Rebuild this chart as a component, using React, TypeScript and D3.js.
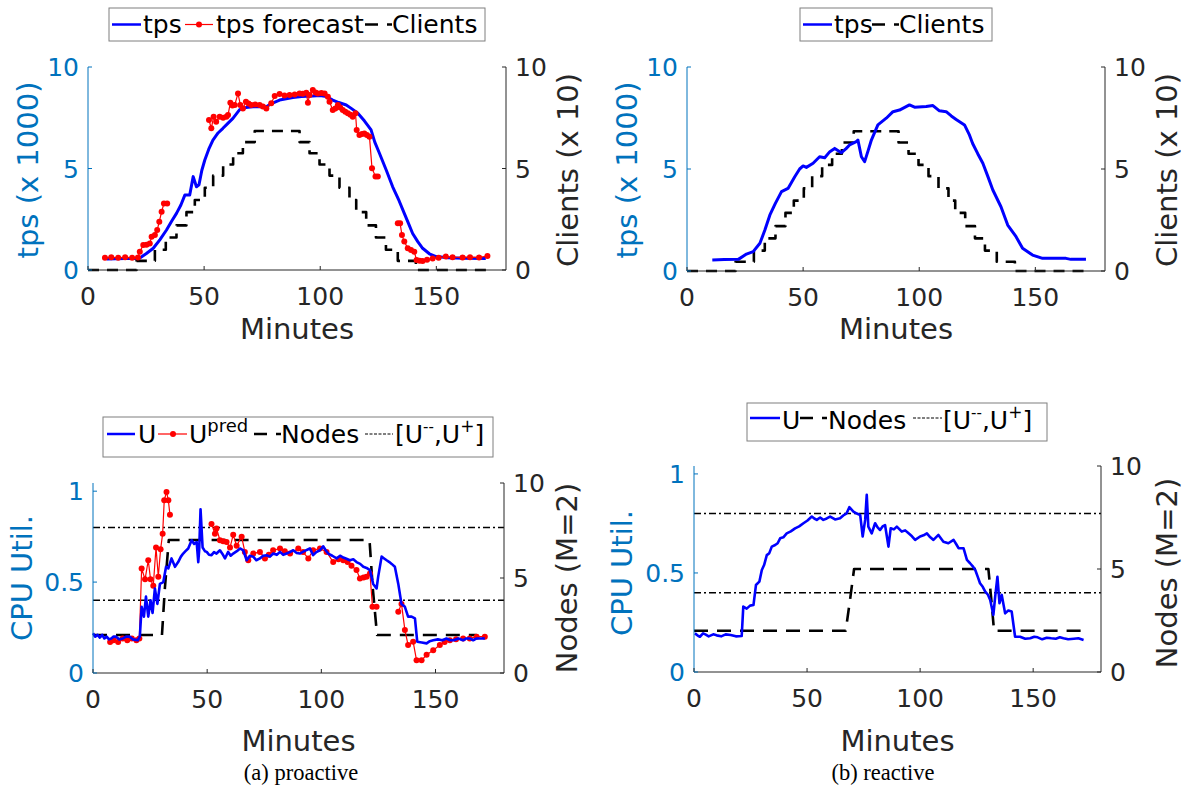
import React from "react";
import * as d3 from "d3";

type P = [number, number | null];

const FONT = "DejaVu Sans, Verdana, sans-serif";
const BLUE_AX = "#0072BD";
const DARK = "#262626";

const xDomain: [number, number] = [0, 180];
const minuteTicks = [0, 50, 100, 150];
const tpsTicks = [0, 5, 10];
const rightTicks = [0, 5, 10];
const cpuTicks = [0, 0.5, 1];
const uBounds = [0.4, 0.8];

// Clients (x10), step-after staircase (minute, level)
const clientSteps: P[] = [
  [0, 0], [20.9, 0.45], [28.8, 1.0], [33.5, 1.6], [38.1, 2.2], [42.4, 2.85], [46.0, 3.45],
  [50.3, 4.05], [53.9, 4.65], [58.2, 5.2], [62.5, 5.75], [66.7, 6.3], [71.8, 6.85],
  [91.1, 6.3], [95.4, 5.75], [99.7, 5.2], [104.0, 4.65], [108.3, 4.05], [112.6, 3.45],
  [115.5, 2.85], [119.8, 2.2], [124.0, 1.6], [128.3, 1.0], [133.4, 0.45], [141.2, 0], [172, 0],
];

// tps (x1000), proactive
const tpsProactive: P[] = [
  [8.0, 0.54], [12, 0.56], [16, 0.57], [22, 0.57], [25, 0.8], [28.1, 1.07], [31, 1.5], [33.8, 1.97],
  [36, 2.4], [38.1, 2.79], [40, 3.2], [41.7, 3.69], [43.8, 3.69], [45.3, 4.6], [46.7, 4.1], [47.8, 4.2],
  [49, 4.9], [50.3, 5.42], [52, 5.95], [53.8, 6.4], [56, 6.75], [58.1, 6.98], [60, 7.2], [62.4, 7.47],
  [65.3, 7.9], [68, 8.0], [71, 8.04], [74, 8.05], [76.8, 8.04], [79, 8.2], [82.5, 8.37], [88.2, 8.5],
  [92, 8.55], [96.8, 8.57], [100, 8.6], [102.6, 8.54], [105.4, 8.37], [108, 8.25], [111.2, 8.13],
  [113.5, 7.95], [116.2, 7.72], [119, 7.35], [121.9, 6.9], [123.5, 6.3], [125.5, 5.75], [128.5, 4.9],
  [131.2, 4.1], [134, 3.4], [136.2, 2.79], [138, 2.3], [139.8, 1.8], [142, 1.4], [144.1, 1.07],
  [147, 0.8], [149.9, 0.66], [155, 0.6], [162, 0.58], [171.3, 0.57],
];

// tps forecast (x1000); null = gap
const tpsForecast: P[] = [
  [7.3, 0.6], [10, 0.63], [13, 0.6], [16, 0.63], [19, 0.6], [21.5, 0.62], [22.3, 0.9], [23.8, 1.23],
  [25.2, 1.25], [26.6, 1.31], [27.4, 1.64], [28.8, 1.72], [29.8, 1.97], [30.7, 2.38], [31.7, 2.87],
  [32.7, 3.28], [34.1, 3.28], [35, null],
  [52.1, 7.39], [53.1, 6.98], [54.1, 7.55], [55.2, 7.3], [56.7, 7.55], [58.2, 7.5], [59.6, 7.55],
  [60.3, 7.63], [61.3, 8.24], [62.2, 8.1], [63.2, 8.13], [64.6, 8.7], [65.6, 8.13], [66.7, 7.96],
  [68.0, 8.29], [69.1, 8.2], [70.3, 8.13], [72, 8.15], [73.9, 8.13], [75.3, 8.05], [76.8, 7.96],
  [78.9, 8.21], [80.4, 8.57], [82.5, 8.67], [84.6, 8.6], [86.8, 8.62], [89, 8.65], [91.1, 8.7],
  [92.5, 8.68], [94.0, 8.73], [94.7, 8.24], [95.4, 8.62], [96.8, 8.87], [98, 8.75], [99.0, 8.7],
  [100.5, 8.72], [101.9, 8.7], [103.3, 8.54], [104.0, 8.29], [105.4, 7.88], [106.5, 7.95],
  [107.6, 8.13], [108.6, 8.0], [109.7, 7.88], [110.8, 7.8], [111.9, 7.72], [113, 7.65], [114.0, 7.55],
  [115.2, 7.72], [115.7, 6.9], [116.9, 6.65], [118, 6.7], [119.0, 6.73], [120.1, 6.65], [121.2, 6.57],
  [122.3, 5.01], [123.8, 4.6], [124.8, 4.6], [126, null],
  [133.4, 2.3], [134.4, 2.3], [135.2, 1.72], [136.2, 1.4], [137.7, 1.07], [139.1, 0.99], [140.5, 0.9],
  [141.5, 0.49], [142.8, 0.45], [144.1, 0.44], [146, 0.5], [148.4, 0.57], [151, 0.6], [154.1, 0.66],
  [157, 0.63], [161.3, 0.62], [164.5, 0.63], [168.4, 0.62], [172.0, 0.69],
];

// tps (x1000), reactive
const tpsReactive: P[] = [
  [10.9, 0.54], [16, 0.56], [22.1, 0.57], [25.6, 0.83], [28.5, 0.95], [31.4, 1.36], [33.5, 2.0],
  [35.7, 2.75], [38, 3.3], [40.7, 3.89], [43.5, 4.05], [46.4, 4.62], [48.5, 5.0], [50.0, 5.15],
  [51.4, 5.08], [54.3, 5.28], [57.1, 5.6], [59.3, 5.55], [61.5, 5.85], [63.6, 6.01], [66.5, 5.8],
  [68.5, 6.0], [70.0, 6.18], [72.9, 6.34], [73.6, 6.42], [75.1, 5.6], [76.5, 5.36], [78, 5.9],
  [79.4, 6.42], [82.2, 7.16], [85.8, 7.49], [88.7, 7.81], [91.5, 7.89], [95.8, 8.14], [98.0, 8.03],
  [103.0, 8.06], [105.9, 8.11], [108.7, 7.85], [111.6, 7.81], [113.8, 7.6], [115.9, 7.43],
  [119.5, 7.16], [121.5, 6.7], [123.0, 6.25], [125.2, 5.75], [127.4, 5.28], [129.5, 4.65],
  [131.7, 3.97], [135.2, 3.15], [138.1, 2.25], [141.7, 1.68], [144.5, 1.11], [148.8, 0.78],
  [153.1, 0.62], [163.2, 0.62], [165.3, 0.57], [171.8, 0.57],
];

// CPU utilisation, proactive
const uProactive: P[] = [
  [0, 0.218], [1, 0.2], [2, 0.21], [3, 0.195], [4, 0.21], [5, 0.19], [6.0, 0.2], [7, 0.185], [8, 0.19],
  [9, 0.2], [10, 0.2], [11.5, 0.185], [13.1, 0.19], [14.5, 0.2], [16, 0.2], [17.5, 0.185], [19.6, 0.18],
  [20.5, 0.2], [21.3, 0.364], [22.3, 0.31], [23.2, 0.42], [24.2, 0.31], [25.2, 0.4],
  [26.1, 0.33], [27.1, 0.465], [28.2, 0.38], [29.3, 0.49], [30.8, 0.5], [32.0, 0.584], [33.0, 0.575],
  [34.4, 0.63], [35.9, 0.584], [37.3, 0.61], [38.5, 0.64], [39.5, 0.657], [40.5, 0.67], [41.7, 0.685],
  [43.2, 0.73], [44.3, 0.71], [45.4, 0.72], [46.1, 0.61], [46.5, 0.675], [47.1, 0.9], [48.0, 0.69],
  [49.0, 0.67], [49.8, 0.666], [50.8, 0.65], [51.9, 0.648], [53, 0.665], [54.1, 0.657],
  [55.6, 0.675], [56.7, 0.655], [57.8, 0.63], [59.2, 0.666], [60.3, 0.645], [61.4, 0.657], [63, 0.67],
  [64.4, 0.685], [65.8, 0.675], [67.3, 0.62], [68.7, 0.645], [70.2, 0.64], [71.5, 0.62], [73.1, 0.63],
  [74.5, 0.645], [76.0, 0.648], [77.5, 0.64], [78.9, 0.657], [80.5, 0.65], [81.9, 0.666], [83.3, 0.65],
  [84.8, 0.657], [86.2, 0.665], [87.7, 0.675], [89.2, 0.66], [90.6, 0.657], [92.5, 0.67], [95.0, 0.685],
  [96.4, 0.648], [97.8, 0.665], [99.4, 0.675], [100.8, 0.697], [101.9, 0.675], [103.0, 0.657],
  [104.8, 0.645], [106.7, 0.63], [108.2, 0.645], [109.6, 0.635], [111, 0.628], [112.5, 0.62],
  [114, 0.625], [115.4, 0.61], [117, 0.6], [118.4, 0.584], [119.8, 0.578], [121.3, 0.566],
  [122.7, 0.49], [124.2, 0.465], [124.9, 0.53], [126.4, 0.64], [127.5, 0.63], [128.6, 0.62],
  [129.8, 0.61], [130.8, 0.6], [132.2, 0.584], [133.7, 0.49], [135.1, 0.38], [136.6, 0.364],
  [138.0, 0.31], [139.5, 0.31], [141.0, 0.3], [142.0, 0.172], [144, 0.168], [146.1, 0.163],
  [147.5, 0.175], [149.0, 0.18], [151, 0.185], [153, 0.18], [154.8, 0.19], [156.5, 0.18], [158, 0.18],
  [160, 0.19], [162.1, 0.18], [163.5, 0.19], [165, 0.19], [166.5, 0.18], [168.0, 0.19], [171.6, 0.19],
];

// Predicted utilisation; null = gap
const uPred: P[] = [
  [7.5, 0.17], [9, 0.18], [11, 0.17], [13, 0.19], [15, 0.18], [17, 0.19], [19, 0.18], [20.3, 0.19],
  [21.3, 0.575], [22.8, 0.515], [24.2, 0.62], [25.2, 0.515], [26.4, 0.48], [27.6, 0.69], [28.6, 0.53],
  [29.6, 0.68], [30.5, 0.766], [31.2, 0.95], [32.2, 0.996], [33.0, 0.95], [33.7, 0.87], [34.5, null],
  [51.9, 0.82], [53.4, 0.766], [54.1, 0.795], [55.6, 0.73], [57, 0.725], [58.5, 0.72], [60.0, 0.69],
  [61.4, 0.76], [62.9, 0.7], [65.1, 0.75], [66.5, 0.666], [68.0, 0.62], [70.2, 0.657], [73.1, 0.666],
  [75.3, 0.63], [77, 0.65], [78.9, 0.675], [81.9, 0.685], [84, 0.67], [86.3, 0.657], [89.9, 0.685],
  [92, 0.665], [94.3, 0.63], [96.4, 0.675], [99.4, 0.685], [102.3, 0.666], [105.2, 0.61],
  [107.5, 0.625], [109.6, 0.62], [111.5, 0.61], [113.2, 0.59], [115.4, 0.566], [116.9, 0.52],
  [118.5, 0.525], [119.8, 0.53], [121.3, 0.547], [122.4, 0.364], [124.2, 0.364], [125, null],
  [133.7, 0.337], [135.1, 0.38], [136.6, 0.236], [138.0, 0.154], [140.2, 0.172], [141.7, 0.07],
  [143.9, 0.07], [146.1, 0.1], [149.0, 0.125], [151.9, 0.154], [154, 0.17], [156.3, 0.18],
  [159, 0.185], [162.1, 0.19], [165, 0.19], [168, 0.2], [171.6, 0.2],
];

const nodesProactive: P[] = [
  [0, 2], [30.2, 2], [31.5, 4.5], [33.2, 7], [121.1, 7], [122.5, 4.5], [124.4, 2], [168, 2],
];

// CPU utilisation, reactive
const uReactive: P[] = [
  [0.4, 0.195], [1.5, 0.185], [2.6, 0.178], [4, 0.195], [5, 0.19], [6.5, 0.18], [8.5, 0.19],
  [10, 0.185], [12, 0.18], [14, 0.19], [16.2, 0.187], [18.5, 0.18], [21.1, 0.182],
  [21.8, 0.33], [23.3, 0.32], [24.8, 0.335], [26.3, 0.338], [27.4, 0.439], [28.9, 0.456], [30.0, 0.515],
  [31, 0.54], [32.2, 0.59], [33.3, 0.6], [34.4, 0.633], [35.9, 0.641], [37, 0.65], [38.1, 0.675],
  [39.5, 0.68], [41.0, 0.7], [42.8, 0.71], [44.7, 0.725], [46.5, 0.735], [48.4, 0.751], [50.2, 0.765],
  [52.1, 0.785], [53.2, 0.775], [54.3, 0.768], [55.8, 0.78], [57.2, 0.768], [58.7, 0.775],
  [60.2, 0.785], [62.4, 0.77], [64.6, 0.776], [66, 0.79], [67.5, 0.801], [68.7, 0.832], [70.5, 0.81],
  [72, 0.8], [73.5, 0.793], [74.6, 0.684], [75.7, 0.768], [76.4, 0.894], [77.1, 0.734], [78.6, 0.7],
  [80.1, 0.751], [81.2, 0.73], [82.3, 0.717], [83.4, 0.735], [84.5, 0.742], [86.0, 0.633],
  [87.0, 0.726], [88.4, 0.72], [89.7, 0.734], [91.9, 0.709], [93.4, 0.715], [94.9, 0.7],
  [96.4, 0.685], [97.8, 0.667], [100.0, 0.684], [101.5, 0.69], [103.0, 0.7], [104.5, 0.68],
  [105.9, 0.667], [108.1, 0.692], [110.3, 0.658], [112.5, 0.65], [114.8, 0.667], [116, 0.645],
  [117.0, 0.625], [119.2, 0.625], [120.7, 0.566], [122.1, 0.549], [123.2, 0.535], [124.4, 0.515],
  [125.5, 0.48], [126.5, 0.448], [127.7, 0.43], [128.8, 0.406], [130, 0.39], [131.0, 0.364],
  [132.4, 0.288], [133.2, 0.38], [134.2, 0.481], [135.1, 0.347], [136.1, 0.389], [137.6, 0.296],
  [139, 0.31], [140.5, 0.305], [142.0, 0.178], [144.2, 0.178], [146.5, 0.168], [148.7, 0.17],
  [150.5, 0.178], [152, 0.175], [154, 0.165], [156.0, 0.173], [158, 0.17], [160, 0.168],
  [161.8, 0.175], [163.4, 0.17], [165.5, 0.165], [168, 0.168], [170, 0.17], [172.3, 0.162],
];

const nodesReactive: P[] = [
  [0, 2], [67.1, 2], [69, 3.5], [70.8, 5], [130.2, 5], [131.5, 3.5], [132.7, 2], [172.3, 2],
];

type Series = {
  data: P[];
  side: "left" | "right";
  color: string;
  width: number;
  dash?: string;
  step?: boolean;
  marker?: boolean;
};

type Box = { l: number; r: number; t: number; b: number };

function Panel(props: {
  box: Box;
  leftDomain: [number, number];
  leftTicks: number[];
  leftLabel: string;
  rightLabel: string;
  leftLabelX: number;
  rightLabelX: number;
  labelY: number;
  xLabelBase: number;
  series: Series[];
}) {
  const { box, series } = props;
  const x = d3.scaleLinear().domain(xDomain).range([box.l, box.r]);
  const yL = d3.scaleLinear().domain(props.leftDomain).range([box.b, box.t]);
  const yR = d3.scaleLinear().domain([0, 10]).range([box.b, box.t]);
  const fs = 25;
  return (
    <g>
      {series.map((s, i) => {
        const y = s.side === "left" ? yL : yR;
        const line = d3
          .line<P>()
          .defined((d) => d[1] !== null)
          .x((d) => x(d[0]))
          .y((d) => y(d[1] as number))
          .curve(s.step ? d3.curveStepAfter : d3.curveLinear);
        return (
          <g key={i}>
            <path
              d={line(s.data) || ""}
              fill="none"
              stroke={s.color}
              strokeWidth={s.width}
              strokeDasharray={s.dash}
              strokeLinejoin="round"
            />
            {s.marker &&
              s.data
                .filter((d) => d[1] !== null)
                .map((d, j) => (
                  <circle key={j} cx={x(d[0])} cy={y(d[1] as number)} r={3} fill={s.color} />
                ))}
          </g>
        );
      })}
      {/* axes */}
      <line x1={box.l} x2={box.r} y1={box.b} y2={box.b} stroke={DARK} strokeWidth={1} />
      <line x1={box.l} x2={box.l} y1={box.t} y2={box.b} stroke={BLUE_AX} strokeWidth={1} />
      <line x1={box.r} x2={box.r} y1={box.t} y2={box.b} stroke={DARK} strokeWidth={1} />
      {minuteTicks.map((t) => (
        <g key={"x" + t}>
          <line x1={x(t)} x2={x(t)} y1={box.b} y2={box.b - 4} stroke={DARK} />
          <text x={x(t)} y={box.b + 35} textAnchor="middle" fontSize={fs} fill={DARK} fontFamily={FONT}>
            {t}
          </text>
        </g>
      ))}
      {props.leftTicks.map((t) => (
        <g key={"l" + t}>
          <line x1={box.l} x2={box.l + 4} y1={yL(t)} y2={yL(t)} stroke={BLUE_AX} />
          <text x={box.l - 9} y={yL(t) + 9} textAnchor="end" fontSize={fs} fill={BLUE_AX} fontFamily={FONT}>
            {t}
          </text>
        </g>
      ))}
      {rightTicks.map((t) => (
        <g key={"r" + t}>
          <line x1={box.r} x2={box.r - 4} y1={yR(t)} y2={yR(t)} stroke={DARK} />
          <text x={box.r + 9} y={yR(t) + 9} textAnchor="start" fontSize={fs} fill={DARK} fontFamily={FONT}>
            {t}
          </text>
        </g>
      ))}
      <text
        x={(box.l + box.r) / 2}
        y={props.xLabelBase}
        textAnchor="middle"
        fontSize={29}
        fill={DARK}
        fontFamily={FONT}
      >
        Minutes
      </text>
      <text
        transform={`translate(${props.leftLabelX},${props.labelY}) rotate(-90)`}
        textAnchor="middle"
        dominantBaseline="central"
        fontSize={29}
        fill={BLUE_AX}
        fontFamily={FONT}
      >
        {props.leftLabel}
      </text>
      <text
        transform={`translate(${props.rightLabelX},${props.labelY}) rotate(-90)`}
        textAnchor="middle"
        dominantBaseline="central"
        fontSize={29}
        fill={DARK}
        fontFamily={FONT}
      >
        {props.rightLabel}
      </text>
    </g>
  );
}

const LFS = 25;
const LEG_STROKE = "#7f7f7f";

function BoundsLabel({ x, y }: { x: number; y: number }) {
  return (
    <text x={x} y={y}>
      [U
      <tspan dy={-11} fontSize={15}>--</tspan>
      <tspan dy={11}>,U</tspan>
      <tspan dy={-11} fontSize={17}>+</tspan>
      <tspan dy={11}>]</tspan>
    </text>
  );
}

export default function App() {
  const boundsLine = (v: number): P[] => [
    [xDomain[0], v],
    [xDomain[1], v],
  ];
  const dashDot = "7,3,2,3";
  const nodeDash = "14,9";
  return (
    <svg width={1188} height={792} style={{ position: "absolute", left: 0, top: 0, background: "#fff" }}>
      <rect width={1188} height={792} fill="#fff" />
      {/* Top-left: proactive tps */}
      <Panel
        box={{ l: 88, r: 506, t: 67, b: 270 }}
        leftDomain={[0, 10]}
        leftTicks={tpsTicks}
        leftLabel="tps (x 1000)"
        rightLabel="Clients (x 10)"
        leftLabelX={28}
        rightLabelX={568}
        labelY={170}
        xLabelBase={339}
        series={[
          { data: clientSteps, side: "right", color: "#000", width: 2.6, dash: "11,8", step: true },
          { data: tpsProactive, side: "left", color: "#0000FF", width: 3 },
          { data: tpsForecast, side: "left", color: "#FF0000", width: 1.2, marker: true },
        ]}
      />
      {/* Top-right: reactive tps */}
      <Panel
        box={{ l: 687, r: 1105, t: 67, b: 271 }}
        leftDomain={[0, 10]}
        leftTicks={tpsTicks}
        leftLabel="tps (x 1000)"
        rightLabel="Clients (x 10)"
        leftLabelX={627}
        rightLabelX={1167}
        labelY={170}
        xLabelBase={339}
        series={[
          { data: clientSteps, side: "right", color: "#000", width: 2.6, dash: "11,8", step: true },
          { data: tpsReactive, side: "left", color: "#0000FF", width: 3 },
        ]}
      />
      {/* Bottom-left: proactive CPU */}
      <Panel
        box={{ l: 93, r: 504, t: 483, b: 673 }}
        leftDomain={[0, 1.045]}
        leftTicks={cpuTicks}
        leftLabel="CPU Util."
        rightLabel="Nodes (M=2)"
        leftLabelX={22}
        rightLabelX={567}
        labelY={578}
        xLabelBase={751}
        series={[
          { data: boundsLine(uBounds[1]), side: "left", color: "#000", width: 1.4, dash: dashDot },
          { data: boundsLine(uBounds[0]), side: "left", color: "#000", width: 1.4, dash: dashDot },
          { data: nodesProactive, side: "right", color: "#000", width: 2.6, dash: nodeDash },
          { data: uPred, side: "left", color: "#FF0000", width: 1.2, marker: true },
          { data: uProactive, side: "left", color: "#0000FF", width: 2.6 },
        ]}
      />
      {/* Bottom-right: reactive CPU */}
      <Panel
        box={{ l: 694, r: 1101, t: 466, b: 672 }}
        leftDomain={[0, 1.04]}
        leftTicks={cpuTicks}
        leftLabel="CPU Util."
        rightLabel="Nodes (M=2)"
        leftLabelX={622}
        rightLabelX={1167}
        labelY={573}
        xLabelBase={751}
        series={[
          { data: boundsLine(uBounds[1]), side: "left", color: "#000", width: 1.4, dash: dashDot },
          { data: boundsLine(uBounds[0]), side: "left", color: "#000", width: 1.4, dash: dashDot },
          { data: nodesReactive, side: "right", color: "#000", width: 2.6, dash: nodeDash },
          { data: uReactive, side: "left", color: "#0000FF", width: 2.6 },
        ]}
      />

      {/* Legends */}
      <g fontFamily={FONT} fontSize={LFS} fill="#000">
        {/* TL */}
        <rect x={109} y={8} width={376} height={33} fill="#fff" stroke={LEG_STROKE} />
        <line x1={112} x2={141} y1={24.5} y2={24.5} stroke="#0000FF" strokeWidth={2.5} />
        <text x={143} y={33}>tps</text>
        <line x1={185} x2={213} y1={24.5} y2={24.5} stroke="#FF0000" strokeWidth={1.2} />
        <circle cx={199} cy={24.5} r={3} fill="#FF0000" />
        <text x={216} y={33}>tps forecast</text>
        <line x1={365} x2={392} y1={24.5} y2={24.5} stroke="#000" strokeWidth={2.6} strokeDasharray="13,9" />
        <text x={392} y={33}>Clients</text>

        {/* TR */}
        <rect x={800} y={8} width={192} height={33} fill="#fff" stroke={LEG_STROKE} />
        <line x1={803} x2={832} y1={24.5} y2={24.5} stroke="#0000FF" strokeWidth={2.5} />
        <text x={834} y={33}>tps</text>
        <line x1={872} x2={899} y1={24.5} y2={24.5} stroke="#000" strokeWidth={2.6} strokeDasharray="13,9" />
        <text x={899} y={33}>Clients</text>

        {/* BL */}
        <rect x={103} y={417} width={390} height={40} fill="#fff" stroke={LEG_STROKE} />
        <line x1={107} x2={135} y1={434} y2={434} stroke="#0000FF" strokeWidth={2.5} />
        <text x={138} y={443}>U</text>
        <line x1={158} x2={187} y1={434} y2={434} stroke="#FF0000" strokeWidth={1.2} />
        <circle cx={173} cy={434} r={3} fill="#FF0000" />
        <text x={189} y={443}>
          U<tspan dy={-11} fontSize={18}>pred</tspan>
        </text>
        <line x1={254} x2={281} y1={434} y2={434} stroke="#000" strokeWidth={2.6} strokeDasharray="13,9" />
        <text x={281} y={443}>Nodes</text>
        <line x1={365} x2={393} y1={434} y2={434} stroke="#000" strokeWidth={1} strokeDasharray="3,1.5" />
        <BoundsLabel x={395} y={443} />

        {/* BR */}
        <rect x={747} y={403} width={300} height={38} fill="#fff" stroke={LEG_STROKE} />
        <line x1={750} x2={780} y1={418} y2={418} stroke="#0000FF" strokeWidth={2.5} />
        <text x={782} y={429}>U</text>
        <line x1={800} x2={827} y1={418} y2={418} stroke="#000" strokeWidth={2.6} strokeDasharray="13,9" />
        <text x={828} y={429}>Nodes</text>
        <line x1={913} x2={942} y1={418} y2={418} stroke="#000" strokeWidth={1} strokeDasharray="3,1.5" />
        <BoundsLabel x={943} y={429} />
      </g>

      {/* Captions */}
      <text x={301} y={780} textAnchor="middle" fontFamily="Liberation Serif, DejaVu Serif, serif" fontSize={22.5} fill="#000">
        (a) proactive
      </text>
      <text x={883} y={780} textAnchor="middle" fontFamily="Liberation Serif, DejaVu Serif, serif" fontSize={22.5} fill="#000">
        (b) reactive
      </text>
    </svg>
  );
}
